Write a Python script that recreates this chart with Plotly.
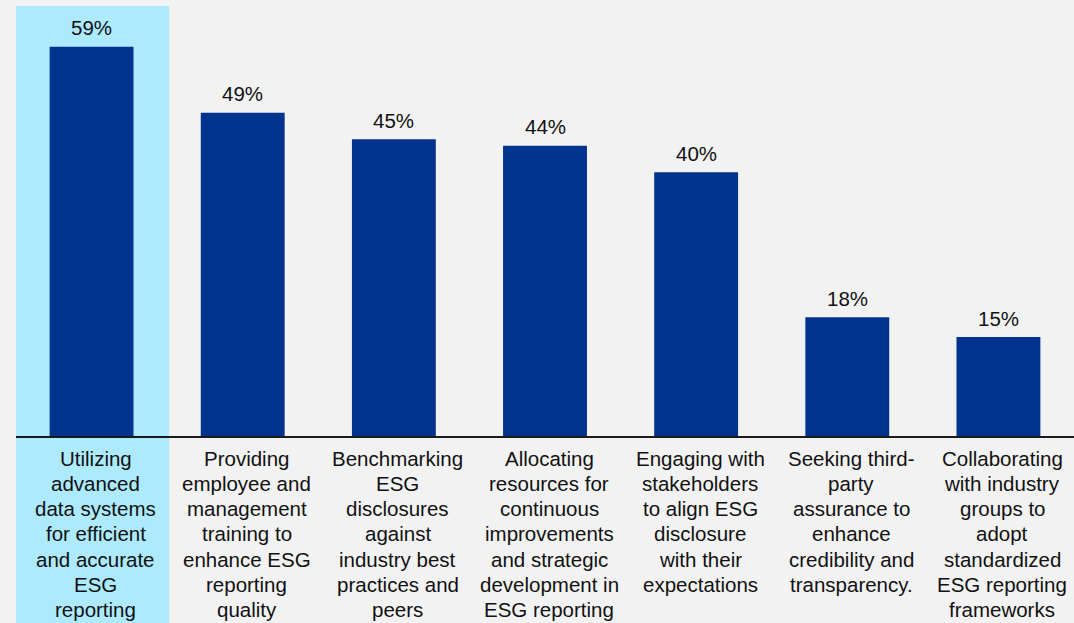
import plotly.graph_objects as go

# Survey responses: share of companies pursuing each ESG reporting initiative
categories = [
    "Utilizing<br>advanced<br>data systems<br>for efficient<br>and accurate<br>ESG<br>reporting",
    "Providing<br>employee and<br>management<br>training to<br>enhance ESG<br>reporting<br>quality",
    "Benchmarking<br>ESG<br>disclosures<br>against<br>industry best<br>practices and<br>peers",
    "Allocating<br>resources for<br>continuous<br>improvements<br>and strategic<br>development in<br>ESG reporting",
    "Engaging with<br>stakeholders<br>to align ESG<br>disclosure<br>with their<br>expectations",
    "Seeking third-<br>party<br>assurance to<br>enhance<br>credibility and<br>transparency.",
    "Collaborating<br>with industry<br>groups to<br>adopt<br>standardized<br>ESG reporting<br>frameworks",
]
values = [59, 49, 45, 44, 40, 18, 15]
value_labels = ["59%", "49%", "45%", "44%", "40%", "18%", "15%"]

BAR_COLOR = "#00338D"
HIGHLIGHT = "#ADEAFE"
BG = "#F2F2F2"
FONT = "Liberation Sans, Arial, sans-serif"
TEXT_SIZE = 20.5
LINE_STEP = 25.3

x_idx = list(range(len(categories)))

fig = go.Figure()
fig.add_trace(go.Bar(
    x=x_idx,
    y=values,
    width=0.555,
    marker=dict(color=BAR_COLOR, line=dict(width=0)),
    hoverinfo="skip",
))

annotations = []
# percentage labels above each bar
for i, (v, lab) in enumerate(zip(values, value_labels)):
    annotations.append(dict(
        x=i, y=v, xref="x", yref="y", text=lab, showarrow=False,
        yanchor="middle", yshift=19,
        font=dict(family=FONT, size=TEXT_SIZE, color="#111111"),
    ))
# category labels below the axis, one line at a time
for i, cat in enumerate(categories):
    for k, line in enumerate(cat.split("<br>")):
        annotations.append(dict(
            x=i, y=0, xref="x", yref="y", text=line, showarrow=False,
            xanchor="center", yanchor="middle",
            xshift=4, yshift=-(22 + k * LINE_STEP),
            font=dict(family=FONT, size=TEXT_SIZE, color="#111111"),
        ))

fig.update_layout(
    width=1074, height=623,
    margin=dict(l=16, r=0, t=0, b=187),
    paper_bgcolor=BG, plot_bgcolor=BG,
    showlegend=False,
    annotations=annotations,
    shapes=[dict(
        type="rect", xref="x", yref="paper",
        x0=-0.527, x1=0.513, y0=-0.45, y1=0.986,
        fillcolor=HIGHLIGHT, line=dict(width=0), layer="below",
    )],
    xaxis=dict(
        range=[-0.5, 6.5], showticklabels=False, ticks="",
        showgrid=False, zeroline=False,
        showline=True, linecolor="#1a1a1a", linewidth=1.5,
    ),
    yaxis=dict(
        range=[0, 66.1], visible=False, showgrid=False, zeroline=False,
    ),
)

fig.write_html("out.html")
